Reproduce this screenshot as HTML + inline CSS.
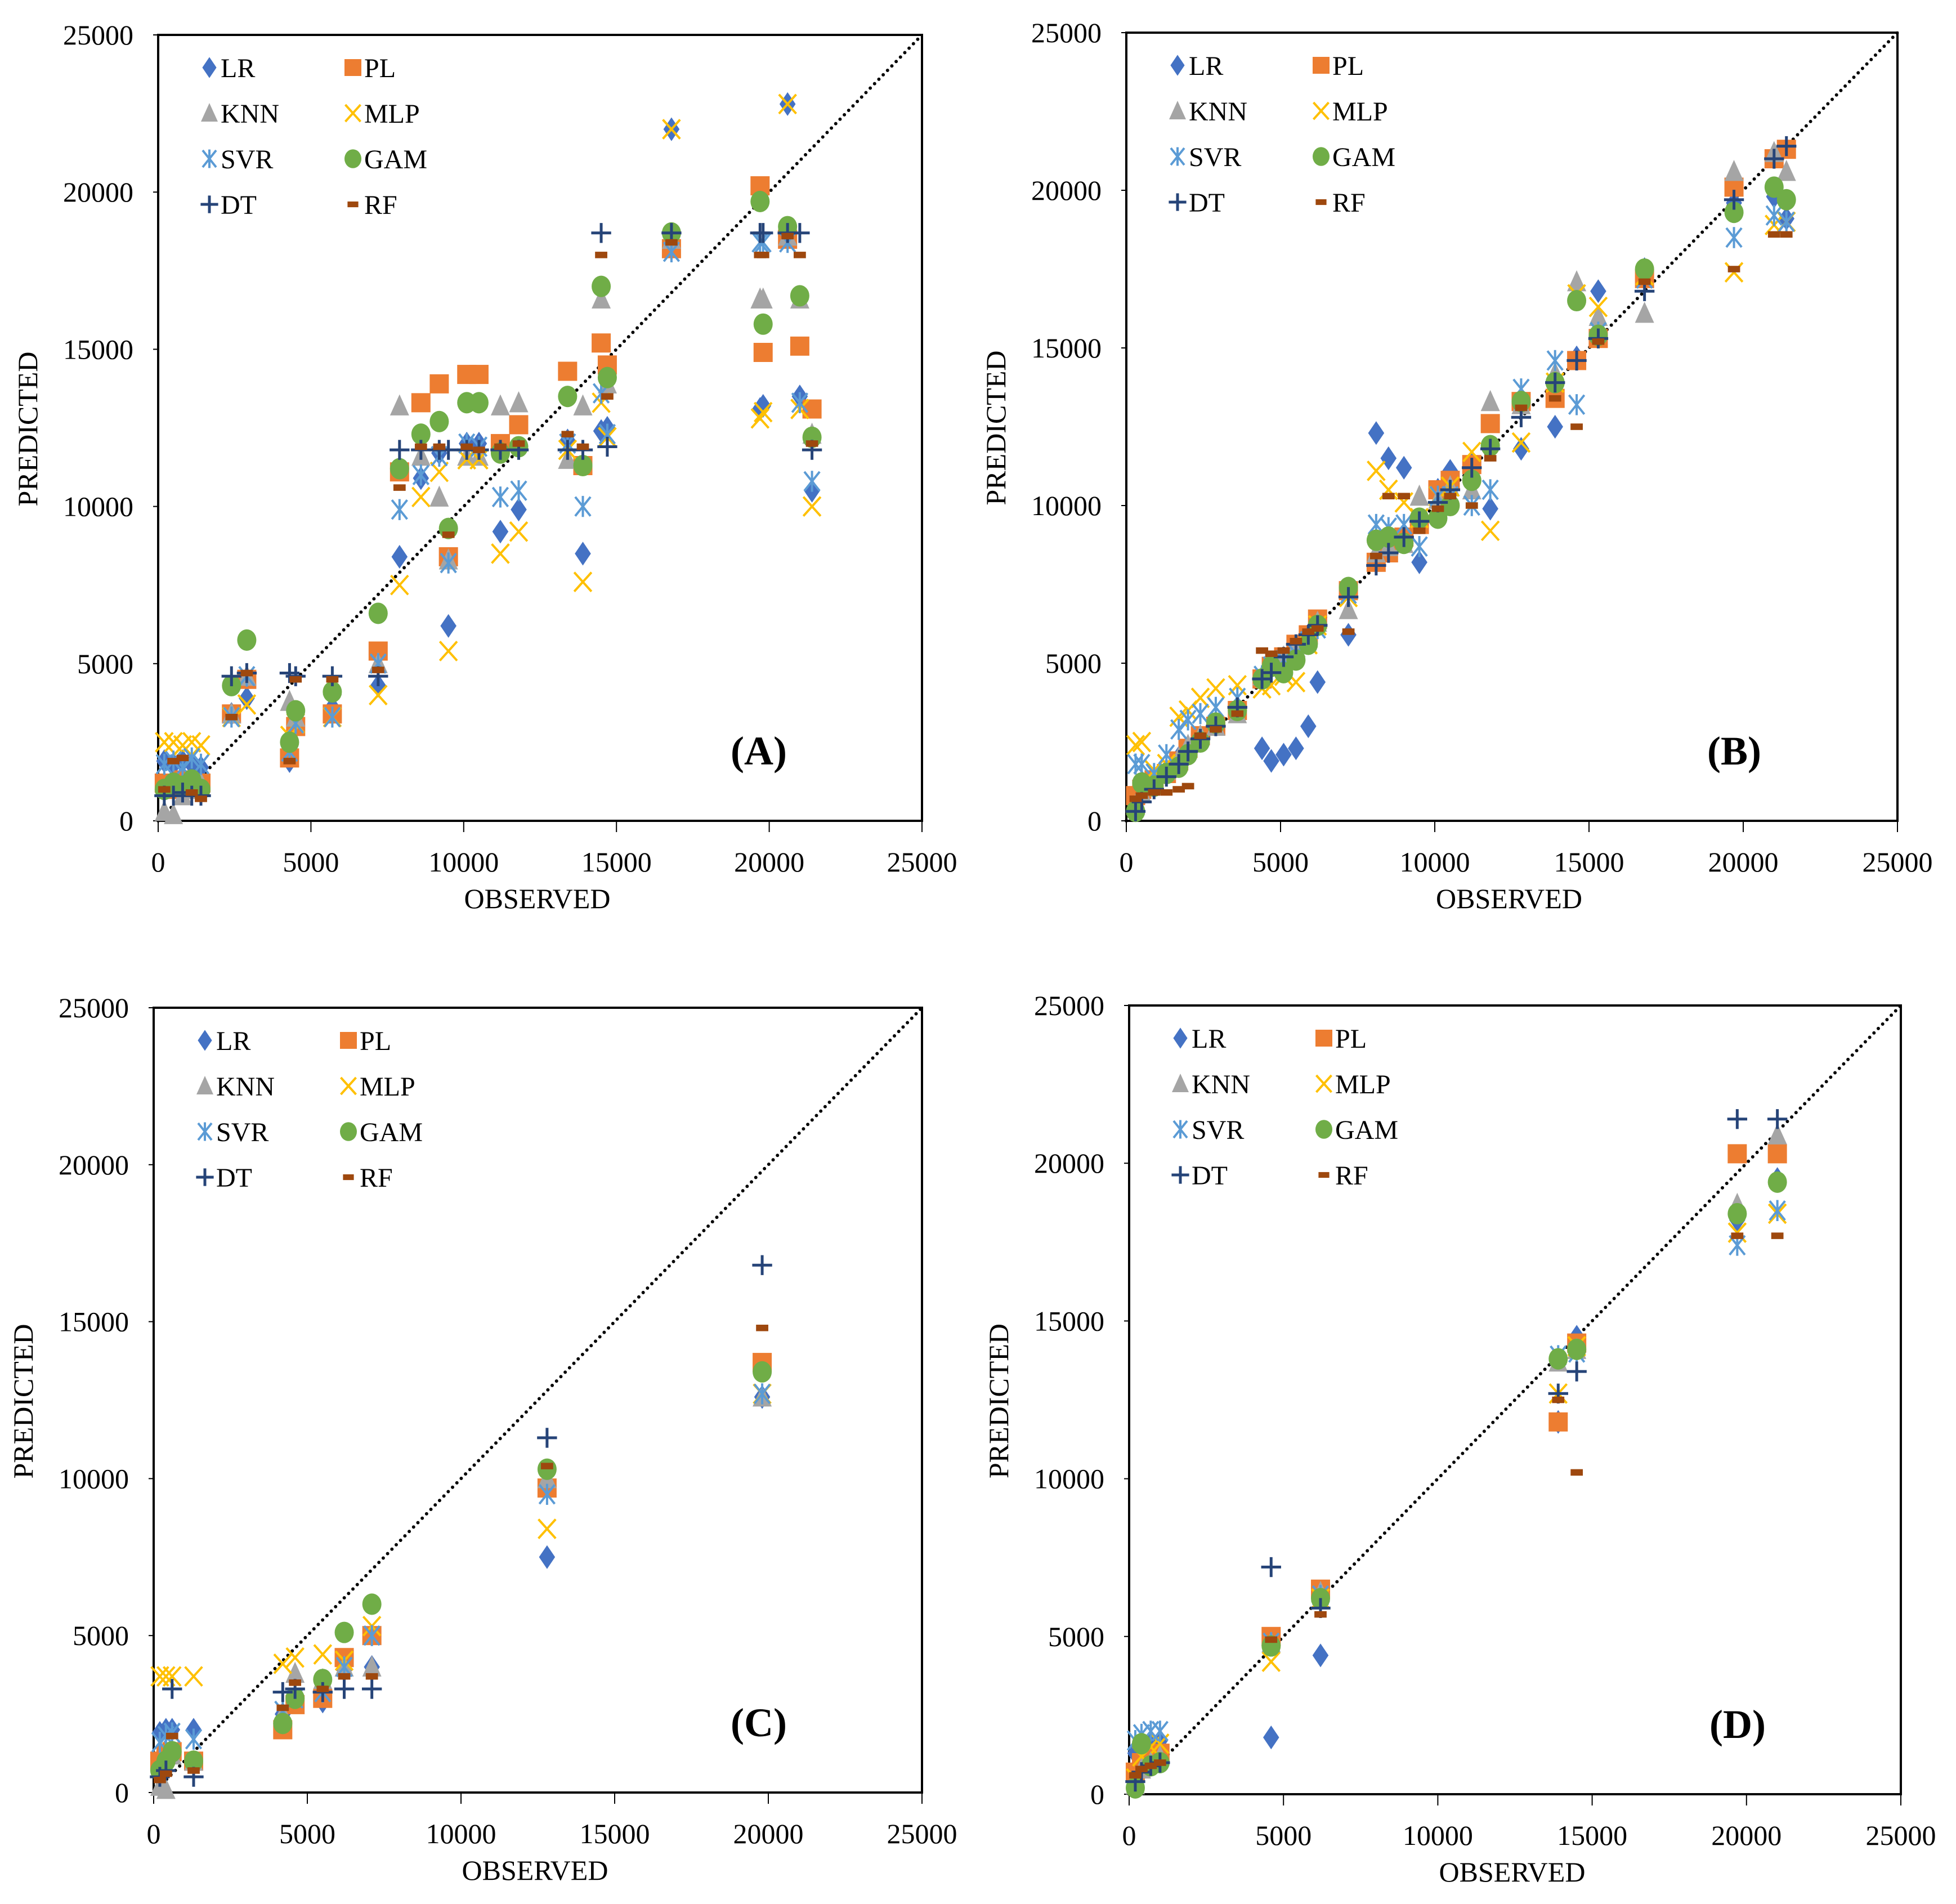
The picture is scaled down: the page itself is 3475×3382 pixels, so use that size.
<!DOCTYPE html>
<html><head><meta charset="utf-8"><style>
html,body{margin:0;padding:0;background:#fff;}
svg{display:block;font-family:"Liberation Serif",serif;}
</style></head><body>
<svg id="fig" width="3475" height="3382" viewBox="0 0 3475 3382" xmlns="http://www.w3.org/2000/svg"></svg>
<script>
// ---- data ----
const models = ["LR","PL","KNN","MLP","SVR","GAM","DT","RF"];
const ticks = [0,5000,10000,15000,20000,25000];

const obsA = [200,500,800,1100,1400,2400,2900,4300,4500,5700,7200,7900,8600,9200,9500,10100,10500,11200,11800,13400,13900,14500,14700,16800,19700,19800,20600,21000,21400];
const lrA  = [1900,1800,1900,1800,1700,3400,3900,1900,3300,3600,4300,8400,10900,11700,6200,12000,12000,9200,9900,12100,8500,12400,12500,22000,13100,13200,22800,13500,10500];
const plA  = [1200,1000,1300,1100,1200,3400,4500,2000,3000,3400,5400,11100,13300,13900,8400,14200,14200,12000,12600,14300,11300,15200,14500,18200,20200,14900,18500,15100,13100];
const knnA = [300,200,800,1000,1200,3400,4600,3800,3300,4300,5000,13200,11600,10300,8300,11600,11600,13200,13300,11500,13200,16600,13900,18500,16600,16600,18600,16600,12300];
const mlpA = [2500,2500,2400,2500,2400,3300,3700,2700,3100,3300,4000,7500,10300,11100,5400,11500,11500,8500,9200,11800,7600,13300,12200,22000,12800,13000,22800,13100,10000];
const svrA = [1800,1900,1700,2000,1800,3300,4600,2200,3100,3300,5000,9900,11000,11600,8200,12000,11900,10300,10500,12000,10000,13600,12300,18100,18400,18400,18400,13300,10800];
const gamA = [1000,1200,1100,1300,1000,4300,5750,2500,3500,4100,6600,11200,12300,12700,9300,13300,13300,11700,11900,13500,11300,17000,14100,18700,19700,15800,18900,16700,12200];
const dtA  = [800,800,900,800,800,4600,4700,4700,4600,4600,4600,11800,11800,11800,11800,11800,11800,11800,11800,11800,11800,18700,11900,18700,18700,18700,18700,18700,11800];
const rfA  = [1000,1900,2000,900,700,3300,4700,1900,4500,4500,4800,10600,11900,11900,9100,11900,11800,11900,12000,12300,11900,18000,13500,18400,18000,18000,18600,18000,12000];

const obsB = [300,500,900,1300,1700,2000,2400,2900,3600,4400,4700,5100,5500,5900,6200,7200,8100,8500,9000,9500,10100,10500,11200,11800,12800,13900,14600,15300,16800,19700,21000,21400];
const lrB  = [600,800,1200,1600,2000,2300,2600,3100,3600,2300,1900,2100,2300,3000,4400,5900,12300,11500,11200,8200,10500,11100,11300,9900,11800,12500,14700,16800,17500,19600,19800,19100];
const plB  = [800,1000,1300,1500,1900,2300,2700,3000,3500,4500,4900,5200,5600,5900,6400,7300,8200,8500,9000,9400,10500,10800,11300,12600,13300,13400,14600,15300,17200,20100,21000,21300];
const knnB = [500,900,1200,1600,2000,2400,2700,3000,3400,4600,4900,5200,5500,5800,6300,6700,8500,8700,8800,10300,10200,10600,10500,13300,13200,14200,17100,16000,16100,20600,21200,20600];
const mlpB = [2400,2500,1600,1800,3300,3500,3900,4200,4300,4200,4300,4600,4400,5600,6200,7100,11100,10500,10100,9600,10300,10600,11700,9200,12000,13900,16700,16300,17300,17400,18900,19000];
const svrB = [1800,1800,1500,2100,2900,3200,3400,3600,3900,4600,4900,5100,5300,5700,6100,7200,9400,9300,9400,8700,10300,10300,10000,10500,13700,14600,13200,15500,17200,18500,19200,19000];
const gamB = [300,1200,1100,1500,1700,2100,2500,3100,3500,4500,4900,4700,5100,5600,6200,7400,8900,9000,8800,9600,9600,10000,10800,11900,13300,13900,16500,15400,17500,19300,20100,19700];
const dtB  = [300,600,1000,1400,1800,2200,2600,3000,3600,4500,4700,5200,5600,5900,6200,7100,8100,8500,9000,9500,10100,10500,11200,11800,12800,13900,14600,15300,16800,19700,21000,21400];
const rfB  = [700,800,900,900,1000,1100,2700,2900,3400,5400,5300,5400,5700,6000,6100,6000,8400,10300,10300,9200,9900,10300,10000,11500,13100,13400,12500,15200,17100,17500,18600,18600];

const obsC = [200,400,600,1300,4200,4600,5500,6200,7100,12800,19800];
const lrC  = [1900,2000,2000,2000,2500,3000,2900,3900,4000,7500,12600];
const plC  = [1000,1200,1300,1000,2000,2800,3000,4300,5000,9700,13700];
const knnC = [200,100,1200,1000,2500,3800,3600,4000,4000,10000,12600];
const mlpC = [3700,3700,3700,3700,4100,4300,4400,4200,5300,8400,12700];
const svrC = [1600,1800,1900,1700,2600,3000,3200,4000,5000,9500,12700];
const gamC = [700,1000,1300,1000,2200,3000,3600,5100,6000,10300,13400];
const dtC  = [500,700,3300,500,3200,3300,3200,3300,3300,11300,16800];
const rfC  = [400,600,1800,700,2700,3500,3300,3700,3700,10400,14800];

const obsD = [200,400,700,1000,4600,6200,13900,14500,19700,21000];
const lrD  = [1300,1500,1600,1700,1800,4400,11800,14500,18200,19500];
const plD  = [700,1000,1200,1300,5000,6500,11800,14300,20300,20300];
const knnD = [300,800,1000,1200,4800,6400,13700,14100,18700,20900];
const mlpD = [500,1200,1500,1600,4200,6200,12700,14200,17800,18400];
const svrD = [1700,1900,2000,2000,4800,6300,13900,14000,17400,18500];
const gamD = [200,1600,900,1000,4700,6200,13800,14100,18400,19400];
const dtD  = [400,700,900,1000,7200,5900,12700,13400,21400,21400];
const rfD  = [600,800,900,1000,4900,5700,12500,10200,17700,17700];

const colors = {LR:"#4472C4",PL:"#ED7D31",KNN:"#A5A5A5",MLP:"#FFC000",SVR:"#5B9BD5",GAM:"#70AD47",DT:"#264478",RF:"#9E480E"};

const panels = [
 {id:"a",label:"(A)",x0:281,x1:1638,y0:1458,y1:62,obs:obsA,series:[lrA,plA,knnA,mlpA,svrA,gamA,dtA,rfA]},
 {id:"b",label:"(B)",x0:2001,x1:3371,y0:1458,y1:58,obs:obsB,series:[lrB,plB,knnB,mlpB,svrB,gamB,dtB,rfB]},
 {id:"c",label:"(C)",x0:273,x1:1638,y0:3184,y1:1790,obs:obsC,series:[lrC,plC,knnC,mlpC,svrC,gamC,dtC,rfC]},
 {id:"d",label:"(D)",x0:2006,x1:3377,y0:3187,y1:1786,obs:obsD,series:[lrD,plD,knnD,mlpD,svrD,gamD,dtD,rfD]}
];

const NS="http://www.w3.org/2000/svg";
const svg=document.getElementById('fig');
function mk(tag,attrs,parent){const e=document.createElementNS(NS,tag);for(const k in attrs)e.setAttribute(k,attrs[k]);(parent||svg).appendChild(e);return e;}

function marker(g,m,x,y,s){
  const c=colors[m];let e;
  if(m==="LR"){e=mk('polygon',{points:`${x},${y-s*0.62} ${x+s*0.42},${y} ${x},${y+s*0.62} ${x-s*0.42},${y}`,fill:c},g);}
  else if(m==="PL"){e=mk('rect',{x:x-s/2,y:y-s/2,width:s,height:s,fill:c},g);}
  else if(m==="KNN"){e=mk('polygon',{points:`${x},${y-s*0.6} ${x+s*0.5},${y+s*0.5} ${x-s*0.5},${y+s*0.5}`,fill:c},g);}
  else if(m==="MLP"){e=mk('path',{d:`M${x-s*0.45},${y-s*0.5}L${x+s*0.45},${y+s*0.5}M${x+s*0.45},${y-s*0.5}L${x-s*0.45},${y+s*0.5}`,stroke:c,'stroke-width':4,fill:'none'},g);}
  else if(m==="SVR"){e=mk('path',{d:`M${x-s*0.4},${y-s*0.5}L${x+s*0.4},${y+s*0.5}M${x+s*0.4},${y-s*0.5}L${x-s*0.4},${y+s*0.5}M${x},${y-s*0.55}L${x},${y+s*0.55}`,stroke:c,'stroke-width':4,fill:'none'},g);}
  else if(m==="GAM"){e=mk('ellipse',{cx:x,cy:y,rx:s*0.5,ry:s*0.56,fill:c},g);}
  else if(m==="DT"){e=mk('path',{d:`M${x-s*0.52},${y}L${x+s*0.52},${y}M${x},${y-s*0.52}L${x},${y+s*0.52}`,stroke:c,'stroke-width':5,fill:'none'},g);}
  else {e=mk('rect',{x:x-s*0.32,y:y-s*0.17,width:s*0.64,height:s*0.34,fill:c},g);}
  return e;
}

panels.forEach(p=>{
  const g=mk('g',{});
  
  
  const sx=v=>p.x0+(p.x1-p.x0)*v/25000;
  const sy=v=>p.y0-(p.y0-p.y1)*v/25000;
  // frame
  const fr=mk('rect',{x:p.x0,y:p.y1,width:p.x1-p.x0,height:p.y0-p.y1,fill:'none',stroke:'#000','stroke-width':4},g);
  
  
  // ticks
  ticks.forEach(t=>{
    mk('line',{x1:sx(t),x2:sx(t),y1:p.y0,y2:p.y0+20,stroke:'#000','stroke-width':2},g);
    mk('line',{x1:p.x0-9,x2:p.x0,y1:sy(t),y2:sy(t),stroke:'#000','stroke-width':2},g);
    const tx=mk('text',{x:sx(t),y:p.y0+90,'font-size':50,'text-anchor':'middle'},g);tx.textContent=t;
    
    
    const ty=mk('text',{x:p.x0-44,y:sy(t)+17,'font-size':50,'text-anchor':'end'},g);ty.textContent=t;
    
    
  });
  const xt=mk('text',{x:(p.x0+p.x1)/2-5,y:p.y0+155,'font-size':50,'text-anchor':'middle'},g);xt.textContent='OBSERVED';
  
  
  const yt=mk('text',{x:0,y:0,'font-size':50,'text-anchor':'middle',transform:`translate(${p.x0-215},${(p.y0+p.y1)/2+2}) rotate(-90)`},g);yt.textContent='PREDICTED';
  
  
  // diagonal
  const dl=mk('line',{x1:sx(0),y1:sy(0),x2:sx(25000),y2:sy(25000),stroke:'#000','stroke-width':6,'stroke-dasharray':'0 11','stroke-linecap':'round'},g);
  
  
  // points
  models.forEach((m,mi)=>{
    const sg=mk('g',{},g);
    
    
    p.obs.forEach((o,i)=>{
      const e=marker(sg,m,sx(o),sy(p.series[mi][i]),34);
      
      
    });
  });
  // legend
  const lg=mk('g',{},g);
  
  
  models.forEach((m,i)=>{
    const col=i%2,row=Math.floor(i/2);
    const mx=p.x0+91+col*255, my=p.y1+58+row*81;
    const le=mk('g',{},lg);
    
    
    marker(le,m,mx,my,30);
    const t=mk('text',{x:mx+20,y:my+17,'font-size':48},le);t.textContent=m;
  });
  const pl=mk('text',{x:p.x1-290,y:p.y0-100,'font-size':72,'text-anchor':'middle','font-weight':'bold'},g);pl.textContent=p.label;
  
  
});
</script>
</body></html>
